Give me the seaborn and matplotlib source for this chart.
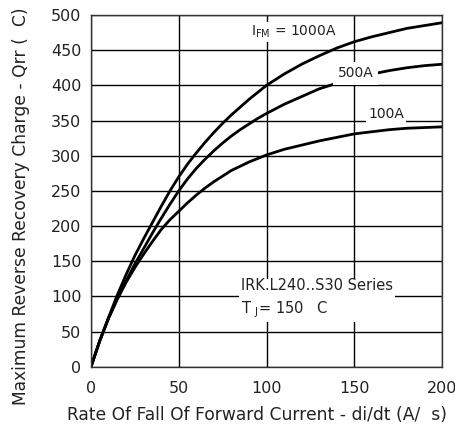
import numpy as np
import pandas as pd
import matplotlib
matplotlib.use('Agg')
import matplotlib.pyplot as plt
import seaborn as sns

# di/dt values (A/us) and Qrr readings (uC) per forward current
didt = [0, 5, 10, 15, 20, 25, 30, 35, 40, 45, 50, 55, 60, 65, 70, 75, 80, 85, 90, 95, 100,
        110, 120, 130, 140, 150, 160, 170, 180, 190, 200]
qrr_1000a = [0, 37, 70, 102, 131, 158, 182, 205, 228, 250, 270, 288, 304, 319, 333, 346,
             358, 369, 380, 390, 400,
             416, 430, 442, 453, 462, 469, 475, 481, 485, 489]
qrr_500a = [0, 37, 69, 97, 122, 146, 168, 190, 211, 231, 250, 267, 282, 295, 307, 318,
            328, 337, 345, 353, 360,
            373, 384, 395, 403, 410, 416, 421, 425, 428, 430]
qrr_100a = [0, 37, 69, 96, 120, 141, 160, 178, 195, 209, 221, 233, 244, 254, 263, 271,
            279, 285, 291, 296, 301,
            309, 315, 321, 326, 331, 334, 337, 339, 340, 341]

x_ticks = [0, 50, 100, 150, 200]
y_ticks = [0, 50, 100, 150, 200, 250, 300, 350, 400, 450, 500]

df = pd.DataFrame({
    'didt': didt * 3,
    'qrr': qrr_1000a + qrr_500a + qrr_100a,
    'ifm': ['1000A'] * len(didt) + ['500A'] * len(didt) + ['100A'] * len(didt),
})

sns.set_style('white')
plt.rcParams['font.family'] = ['DejaVu Sans']

fig = plt.figure(figsize=(4.56, 4.30), dpi=100)
ax = fig.add_axes([0.1996, 0.1472, 0.7697, 0.8179])

sns.lineplot(data=df, x='didt', y='qrr', hue='ifm', units='ifm', estimator=None,
             palette=['black', 'black', 'black'], linewidth=2.0, legend=False, ax=ax)

ax.set_xlim(0, 200)
ax.set_ylim(0, 500)
ax.set_xticks(x_ticks)
ax.set_yticks(y_ticks)
ax.grid(True, color='black', linewidth=1.0)
ax.set_axisbelow(True)
for s in ax.spines.values():
    s.set_color('#333333')
    s.set_linewidth(1.0)
ax.tick_params(length=0, labelsize=11.5, colors='#222222')
ax.tick_params(axis='x', pad=10)
ax.tick_params(axis='y', pad=7)

ax.set_xlabel('Rate Of Fall Of Forward Current - di/dt (A/  s)', fontsize=12.3,
              color='#222222')
ax.set_ylabel('Maximum Reverse Recovery Charge - Qrr (  C)', fontsize=12.3,
              color='#222222')
ax.xaxis.set_label_coords(0.474, -0.113)
ax.yaxis.set_label_coords(-0.175, 0.455)

box = dict(facecolor='white', edgecolor='none', pad=1.5)
ax.text(91, 476, r'I$_{\mathrm{FM}}$ = 1000A', fontsize=10, va='center', ha='left',
        bbox=box, color='#222222')
ax.text(140.5, 417, '500A', fontsize=10, va='center', ha='left',
        bbox=dict(facecolor='white', edgecolor='none', pad=3.5), color='#222222')
ax.text(158, 359, '100A', fontsize=10, va='center', ha='left', bbox=box, color='#222222')
ax.text(85.5, 126.5, 'IRK.L240..S30 Series\n' + r'T $_{\mathrm{J}}$= 150   C', fontsize=10.5,
        va='top', ha='left', linespacing=1.5, bbox=box, color='#222222')

fig.savefig('out.png', dpi=100)
